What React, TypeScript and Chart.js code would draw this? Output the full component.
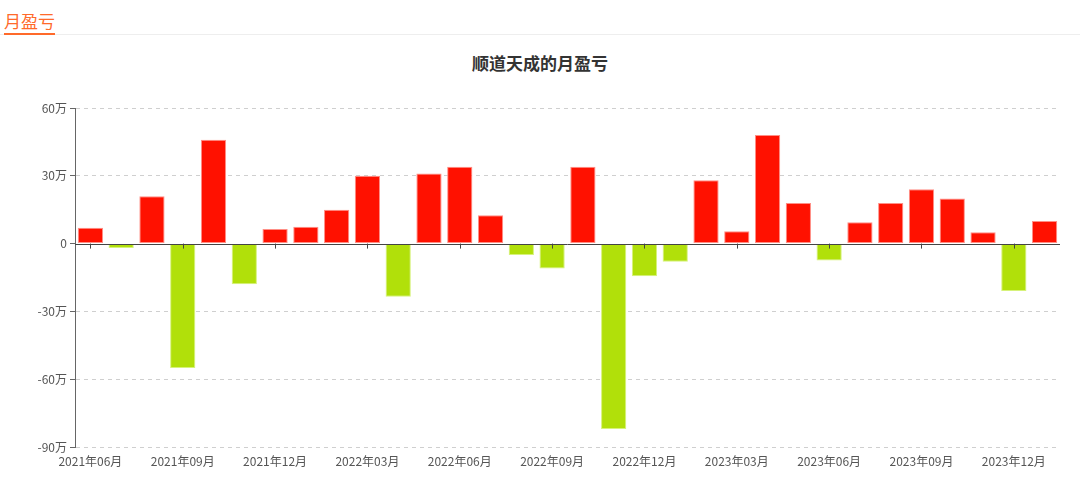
import React, { useEffect, useRef } from "react";
import { Chart, registerables } from "chart.js";

Chart.register(...registerables);

const months: string[] = [
  "2021年06月", "2021年07月", "2021年08月", "2021年09月", "2021年10月", "2021年11月",
  "2021年12月", "2022年01月", "2022年02月", "2022年03月", "2022年04月", "2022年05月",
  "2022年06月", "2022年07月", "2022年08月", "2022年09月", "2022年10月", "2022年11月",
  "2022年12月", "2023年01月", "2023年02月", "2023年03月", "2023年04月", "2023年05月",
  "2023年06月", "2023年07月", "2023年08月", "2023年09月", "2023年10月", "2023年11月",
  "2023年12月", "2024年01月",
];

// monthly profit/loss in 万
const profitValues: number[] = [
  7, -2, 21, -55, 46, -18,
  6.5, 7.5, 15, 30, -23.5, 31,
  34, 12.5, -5, -11, 34, -82,
  -14.5, -8, 28, 5.5, 48, 18,
  -7.5, 9.5, 18, 24, 20, 5,
  -21, 10,
];

const yTicks: number[] = [-90, -60, -30, 0, 30, 60];

const chartTitle = "顺道天成的月盈亏";
const headerText = "月盈亏";

const RED = "#ff1100";
const GREEN = "#b1e00a";
const FONT = "'Noto Sans CJK SC', 'Noto Sans', sans-serif";

export default function App() {
  const ref = useRef<HTMLCanvasElement | null>(null);

  useEffect(() => {
    if (!ref.current) return;
    const zeroTicks = {
      id: "zeroTicks",
      afterDatasetsDraw(chart: any) {
        const { ctx, scales } = chart;
        const x = scales.x;
        const y = scales.y;
        const y0 = y.getPixelForValue(0);
        ctx.save();
        ctx.strokeStyle = "#444";
        ctx.lineWidth = 1;
        ctx.beginPath();
        ctx.moveTo(chart.chartArea.left, Math.round(y0) + 0.5);
        ctx.lineTo(chart.chartArea.right, Math.round(y0) + 0.5);
        ctx.stroke();
        months.forEach((_, i) => {
          if (i % 3 !== 0) return;
          const px = Math.round(x.getPixelForValue(i)) + 0.5;
          ctx.beginPath();
          ctx.moveTo(px, y0);
          ctx.lineTo(px, y0 + 5);
          ctx.stroke();
        });
        ctx.restore();
      },
    };

    const chart = new Chart(ref.current, {
      type: "bar",
      data: {
        labels: months,
        datasets: [
          {
            data: profitValues,
            backgroundColor: profitValues.map((v) => (v >= 0 ? RED : GREEN)),
            borderColor: profitValues.map((v) => (v >= 0 ? "#ff8f86" : "#d6f27a")),
            borderWidth: 1,
            borderSkipped: false,
            barPercentage: 0.82,
            categoryPercentage: 1,
          },
        ],
      },
      options: {
        animation: false,
        responsive: false,
        maintainAspectRatio: false,
        layout: { padding: { top: 108, right: 20, left: 0, bottom: 0 } },
        plugins: {
          legend: { display: false },
          title: { display: false },
          tooltip: { enabled: false },
        },
        scales: {
          x: {
            afterFit(scale: any) {
              scale.height = 47;
            },
            grid: { display: false, drawTicks: false },
            border: { display: false },
            ticks: {
              autoSkip: false,
              maxRotation: 0,
              padding: 7,
              color: "#555",
              font: { size: 12, family: FONT },
              callback: (_v: any, i: number) => (i % 3 === 0 ? months[i] : ""),
            },
          },
          y: {
            min: -90,
            max: 60,
            afterFit(scale: any) {
              scale.width = 75;
            },
            afterBuildTicks(scale: any) {
              scale.ticks = yTicks.map((v) => ({ value: v }));
            },
            grid: {
              color: (c: any) => (c.tick && c.tick.value === 0 ? "rgba(0,0,0,0)" : "#cfcfcf"),
              tickColor: "#666",
              tickLength: 5,
              drawTicks: true,
            },
            border: {
              display: true,
              color: "#666",
              dash: (c: any) => (c.tick && c.tick.value === 0 ? [] : [4, 4]),
            },
            ticks: {
              padding: 3,
              color: "#555",
              font: { size: 12, family: FONT },
              callback: (v: any) => (v === 0 ? "0" : `${v}万`),
            },
          },
        },
      },
      plugins: [zeroTicks],
    });
    return () => chart.destroy();
  }, []);

  return (
    <div
      style={{
        position: "fixed",
        left: 0,
        top: 0,
        width: 1080,
        height: 494,
        background: "#fff",
        overflow: "hidden",
      }}
    >
      <div
        style={{
          position: "absolute",
          left: 0,
          top: 34,
          width: 1080,
          height: 1,
          background: "#eeeeee",
        }}
      />
      <div
        style={{
          position: "absolute",
          left: 4,
          top: 10,
          fontFamily: FONT,
          fontSize: 17,
          lineHeight: "22px",
          color: "#ff6a2a",
          borderBottom: "2px solid #ff6a2a",
          paddingBottom: 1,
        }}
      >
        {headerText}
      </div>
      <div
        style={{
          position: "absolute",
          left: 0,
          top: 50,
          width: 1080,
          textAlign: "center",
          fontFamily: FONT,
          fontSize: 17,
          fontWeight: "bold",
          lineHeight: "26px",
          color: "#333",
        }}
      >
        {chartTitle}
      </div>
      <canvas
        ref={ref}
        width={1080}
        height={494}
        style={{ position: "absolute", left: 0, top: 0, width: 1080, height: 494 }}
      />
    </div>
  );
}
